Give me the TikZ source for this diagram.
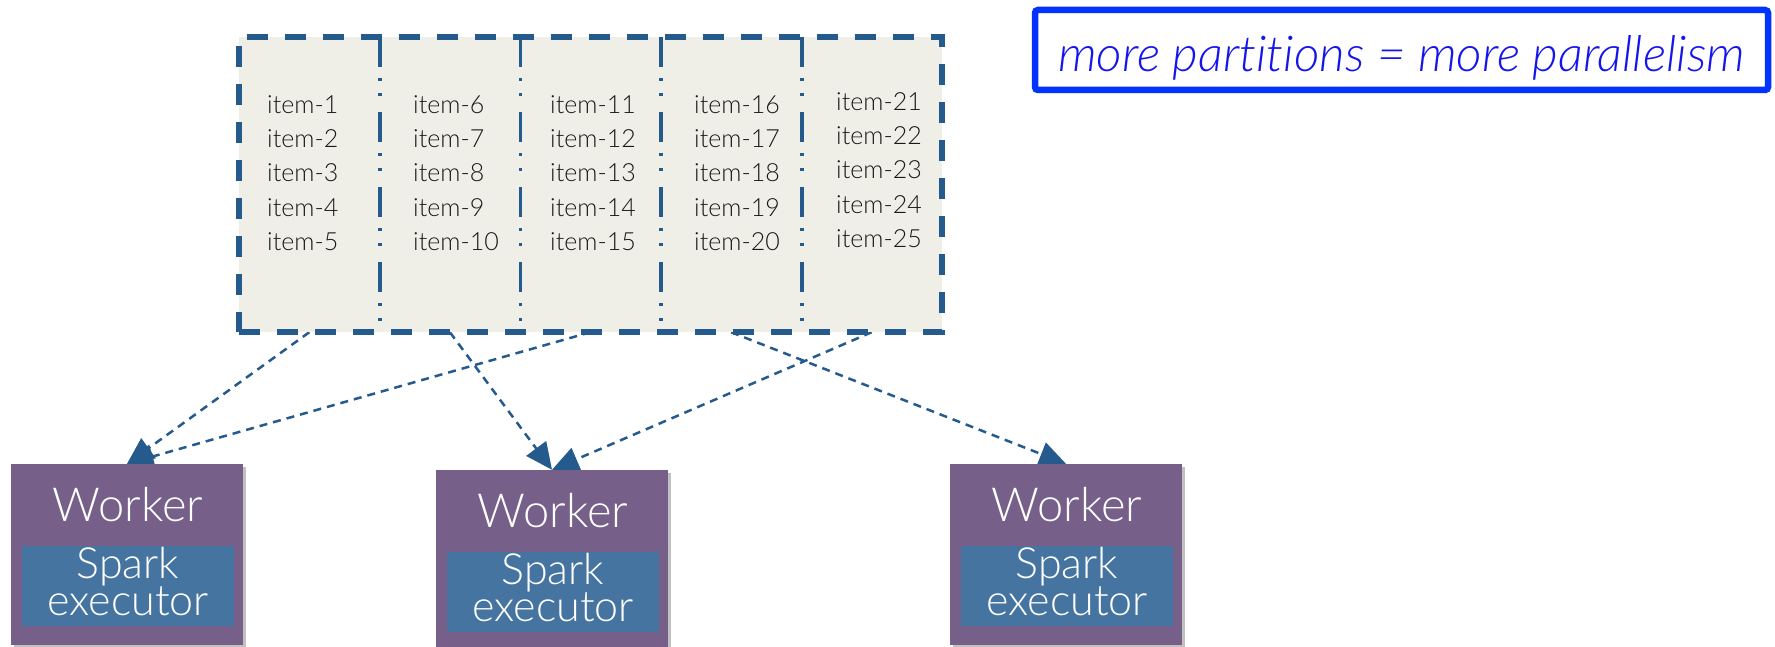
\documentclass[tikz,border=0pt]{standalone}
\usepackage{fontspec}
\setmainfont{Lato}[UprightFont=* Light, ItalicFont=* Light Italic, Ligatures=NoCommon]
\usetikzlibrary{arrows.meta,shadows,backgrounds}
\definecolor{rddblue}{RGB}{37,90,140}
\definecolor{rddfill}{RGB}{239,239,231}
\definecolor{workerpurple}{RGB}{118,96,138}
\definecolor{execblue}{RGB}{70,116,161}
\definecolor{itemtext}{RGB}{25,25,25}
\definecolor{notecolor}{RGB}{0,51,255}
\definecolor{notetext}{RGB}{20,20,235}
\begin{document}
\begin{tikzpicture}[x=1pt,y=-1pt,
 outerbox/.style={draw=rddblue, fill=rddfill, line width=5.5pt, dash pattern=on 21pt off 17pt, minimum width=703pt, minimum height=295pt, inner sep=0pt},
 partbox/.style={minimum width=140.6pt, minimum height=295pt, inner sep=0pt},
 divider/.style={draw=rddblue, line width=3.8pt, dash pattern=on 30pt off 11pt on 3pt off 12pt on 3pt off 16pt},
 items/.style={font=\fontsize{25}{34.4}\selectfont, text=itemtext, align=left, anchor=west, inner sep=0pt},
 worker/.style={fill=workerpurple, minimum width=232pt, minimum height=181pt, inner sep=0pt, drop shadow={shadow xshift=3pt, shadow yshift=-3pt, opacity=0.35, fill=black!70}},
 executor/.style={fill=execblue, minimum width=212pt, minimum height=80pt, inner sep=0pt},
 wlabel/.style={text=white, font=\fontsize{47}{47}\selectfont, anchor=base, inner sep=0pt},
 elabel/.style={text=white, font=\fontsize{43}{43}\selectfont, anchor=base, inner sep=0pt},
 flow/.style={draw=rddblue, line width=2.5pt, dash pattern=on 8pt off 6pt, -{Triangle[length=26.6pt,width=24.4pt]}},
 note/.style={draw=notecolor, line width=6.5pt, rounded corners=3pt, minimum width=733pt, minimum height=80pt, inner sep=0pt, text height=44pt, text depth=0pt, text=notetext, font=\fontsize{49.5}{50}\selectfont\itshape}
]
\useasboundingbox (0,0) rectangle (1775,647);

% partitioned dataset
\node[outerbox] (rdd) at (590.5,184.5) {};
\node[partbox] (p1) at (309.3,184.5) {};
\node[partbox] (p2) at (449.9,184.5) {};
\node[partbox] (p3) at (590.5,184.5) {};
\node[partbox] (p4) at (731.1,184.5) {};
\node[partbox] (p5) at (871.7,184.5) {};

\node[items] (i1) at (267,173) {item-1\\item-2\\item-3\\item-4\\item-5};
\node[items] (i2) at (413,173) {item-6\\item-7\\item-8\\item-9\\item-10};
\node[items] (i3) at (550,173) {item-11\\item-12\\item-13\\item-14\\item-15};
\node[items] (i4) at (694,173) {item-16\\item-17\\item-18\\item-19\\item-20};
\node[items] (i5) at (836,170) {item-21\\item-22\\item-23\\item-24\\item-25};

\draw[divider] (p1.north east) -- (p1.south east);
\draw[divider] (p2.north east) -- (p2.south east);
\draw[divider] (p3.north east) -- (p3.south east);
\draw[divider] (p4.north east) -- (p4.south east);

% workers
\node[worker] (w1) at (127,554.5) {};
\node[executor] (e1) at (127.5,585.5) {};
\node[wlabel] (w1l) at (128,521) {Worker};
\node[elabel] (e1a) at (128,578) {Spark};
\node[elabel] (e1b) at (128,615) {executor};

\node[worker] (w2) at (552,560.5) {};
\node[executor] (e2) at (553,591.5) {};
\node[wlabel] (w2l) at (553,527) {Worker};
\node[elabel] (e2a) at (553,584) {Spark};
\node[elabel] (e2b) at (553,621) {executor};

\node[worker] (w3) at (1066,554.5) {};
\node[executor] (e3) at (1066.5,585.5) {};
\node[wlabel] (w3l) at (1067,521) {Worker};
\node[elabel] (e3a) at (1067,578) {Spark};
\node[elabel] (e3b) at (1067,615) {executor};

% note
\node[note] (note) at (1401.5,50) {more partitions = more parallelism};

% connectors
\begin{scope}[on background layer]
\draw[flow] (p1.south) -- (w1.north);
\draw[flow] (p3.south) -- (w1.north);
\draw[flow] (p2.south) -- (w2.north);
\draw[flow] (p5.south) -- (w2.north);
\draw[flow] (p4.south) -- (w3.north);
\end{scope}
\end{tikzpicture}
\end{document}
